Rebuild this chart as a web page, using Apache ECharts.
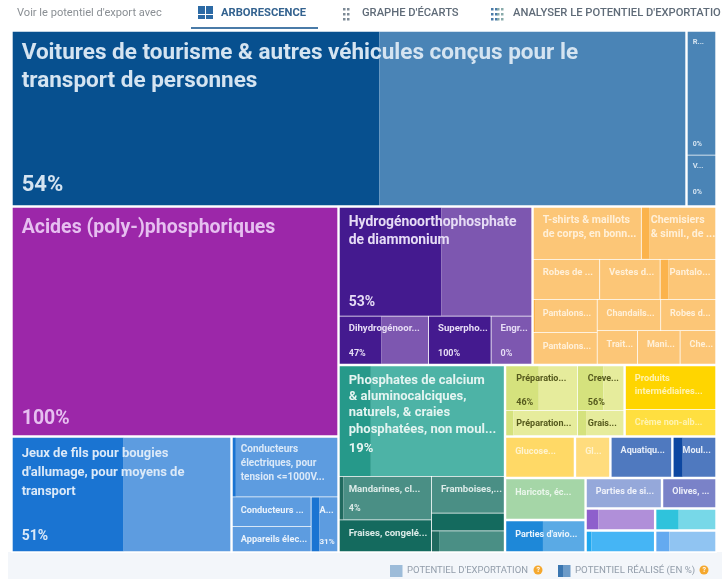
<!DOCTYPE html>
<html>
<head>
<meta charset="utf-8">
<style>html,body{margin:0;padding:0;background:#fff}#c{width:722px;height:579px}</style>
<script src="https://cdn.jsdelivr.net/npm/echarts@6/dist/echarts.min.js"></script>
</head>
<body>
<div id="c"></div>
<script>
// ---- data -----------------------------------------------------------------
const cellNames = [
  "Voitures de tourisme & autres véhicules conçus pour le\ntransport de personnes", "R...", "V...",
  "Acides (poly-)phosphoriques",
  "Jeux de fils pour bougies\nd'allumage, pour moyens de\ntransport",
  "Conducteurs\nélectriques, pour\ntension <=1000V...", "Conducteurs ...", "Appareils élec...", "A...",
  "Hydrogénoorthophosphate\nde diammonium", "Dihydrogénoor...", "Superpho...", "Engr...",
  "T-shirts & maillots\nde corps, en bonn...", "Chemisiers\n& simil., de ...", "Robes de ...", "Vestes d...", "Pantalo...",
  "Pantalons...", "Pantalons...", "Chandails...", "Robes d...", "Trait...", "Mani...", "Che...",
  "Phosphates de calcium\n& aluminocalciques,\nnaturels, & craies\nphosphatées, non moul...",
  "Mandarines, cl...", "Fraises, congelé...", "Framboises,...", "", "",
  "Préparatio...", "Préparation...", "Creve...", "Grais...",
  "Produits\nintermédiaires...", "Crème non-alb...",
  "Glucose...", "Gl...", "Aquatiqu...", "Moul...",
  "Haricots, éc...", "Parties d'avio...", "Parties de si...", "Olives, ...",
  "", "", "", ""
];
const potential = [
  1188, 37.5, 15.3,
  752.1,
  255.2,
  64.7, 24, 20.4, 15,
  213.4, 43.7, 30.6, 19.9,
  57.2, 39.4, 27.1, 24.7, 22.7,
  21.6, 20.6, 20.2, 17.5, 13.8, 14.6, 12.2,
  185.6,
  40.9, 29.8, 27.2, 13.2, 15.4,
  33, 18.9, 21.4, 12.2,
  40.9, 24.8,
  29, 14.7, 25.7, 18.3,
  33.8, 26.2, 23.3, 16.6,
  15.3, 15.3, 13.5, 13.5
];
const realized = [
  54.5, 0, 0,
  100,
  51,
  3, 0, 0, 31,
  53, 47, 100, 0,
  0, 10, 0, 0, 14,
  2, 0, 0, 0, 0, 0, 0,
  19,
  4, 100, 0, 100, 10,
  46, 10, 56, 18,
  0, 0,
  0, 0, 0, 22,
  0, 47, 0, 0,
  17, 7, 38, 22
];
const percentLabels = [
  "54%", "0%", "0%",
  "100%",
  "51%",
  "", "", "", "31%",
  "53%", "47%", "100%", "0%",
  "", "", "", "", "",
  "", "", "", "", "", "", "",
  "19%",
  "4%", "", "", "", "",
  "46%", "", "56%", "",
  "", "",
  "", "", "", "",
  "", "", "", "",
  "", "", "", ""
];
const headerIntro = "Voir le potentiel d'export avec";
const tabLabels = ["ARBORESCENCE", "GRAPHE D'ÉCARTS", "ANALYSER LE POTENTIEL D'EXPORTATIO"];
const legendLabels = ["POTENTIEL D'EXPORTATION", "POTENTIEL RÉALISÉ (EN %)"];

// ---- nesting of the treemap: S = split across the short side, L = cut along the long side
const S = (...k) => ({ across: true, k });
const L = (...k) => ({ across: false, k });
const tight = n => (n.tight = true, n); // group whose cells sit closer together
const nesting = S(
  L(0, tight(L(1, 2))),
  L(
    L(3, L(4, tight(L(5, L(S(6, 7), 8))))),
    S(
      L(
        tight(S(9, L(10, 11, 12))),
        tight(S(L(13, 14), S(L(15, 16, 17), L(L(18, 19), S(L(20, 21), L(22, 23, 24))))))
      ),
      L(
        tight(L(25, L(S(26, 27), L(28, S(29, 30))))),
        S(
          L(tight(L(S(31, 32), L(33, 34))), tight(S(35, 36))),
          L(37, 38, 39, 40),
          L(S(41, 42), S(L(43, 44), L(S(45, 46), S(47, 48))))
        )
      )
    )
  )
);

// ---- styles -----------------------------------------------------------------
const P = (light, dark, text, size, lh, pct, pad) => ({ light, dark, text, size, lh, pct, pad });
const carsK = P('#4a84b6', '#07508f', '#d5e4f1', 22.5, 28, 22, [8, 9]);
const miniCars = P('#4a84b6', '#07508f', '#d5e4f1', 7.5, 9, 7, [6, 5]);
const acid = P('#9c27a9', '#9c27a9', '#e6bff0', 19.5, 22, 19.5, [9, 9]);
const jeux = P('#5d9ce0', '#1a74d2', '#dbe9f8', 13, 19, 14, [7, 9]);
const jeuxS = P('#5d9ce0', '#1a74d2', '#dbe9f8', 10, 14, 9, [5, 8]);
const jeuxM = P('#5d9ce0', '#1a74d2', '#eaf2fb', 9.2, 12, 8, [7, 8]);
const hyd = P('#7d57b0', '#441a8f', '#e6dcf5', 13.9, 18, 14, [6, 9]);
const hydS = P('#7d57b0', '#441a8f', '#e6dcf5', 9.6, 12, 9, [6, 9]);
const orgB = P('#fcc677', '#fbb34c', '#fff0d9', 10.6, 13.5, 9, [6, 9]);
const org = P('#fcc677', '#fbb34c', '#fff0d9', 9.5, 13, 9, [6, 9]);
const org2 = P('#fcc677', '#fbb34c', '#fff0d9', 9, 12, 9, [7.5, 9]);
const tealB = P('#4db3a6', '#26998a', '#e4f4f1', 13, 16.4, 13, [6, 9]);
const tealM = P('#4a8f85', '#206a5f', '#dcebe8', 9.6, 12, 9, [7, 9]);
const tealD = P('#4a8f85', '#146a5e', '#dcebe8', 9.6, 12, 9, [7, 9]);
const yg = P('#e6ec9c', '#d5e27d', '#55591d', 9, 12, 9, [7, 10]);
const yel = P('#ffd500', '#ffd500', '#fff3b0', 9.2, 13, 9, [6, 9]);
const yel2 = P('#ffdf40', '#ffdf40', '#fff3b0', 9, 12, 9, [7, 9]);
const yel3 = P('#ffd966', '#ffd966', '#fff3cf', 9, 12, 9, [8, 9]);
const yel4 = P('#ffdc7d', '#ffdc7d', '#fff3cf', 9, 12, 9, [8, 9]);
const ind = P('#4f79bf', '#0d47a1', '#e6edf8', 9, 12, 9, [7, 9]);
const mint = P('#a5d6a7', '#a5d6a7', '#eaf6eb', 9, 12, 9, [7.5, 9]);
const avio = P('#5aaae5', '#1e88d8', '#eaf5fd', 9, 12, 9, [8, 9]);
const si = P('#95a8da', '#95a8da', '#eef1fa', 9, 12, 9, [7, 9]);
const oli = P('#7a82c8', '#7a82c8', '#eceef9', 9, 12, 9, [7, 9]);
const pur = P('#b08fd9', '#8e5fcc', '#fff', 9, 12, 9, [7, 9]);
const lb = P('#45b5f5', '#1fa8f0', '#fff', 9, 12, 9, [7, 9]);
const cy = P('#77d8e8', '#2fc3dc', '#fff', 9, 12, 9, [7, 9]);
const bl = P('#90c4f2', '#64aaf0', '#fff', 9, 12, 9, [7, 9]);
const cellStyle = [
  carsK, miniCars, miniCars, acid, jeux, jeuxS, jeuxM, jeuxM, jeuxM,
  hyd, hydS, hydS, hydS,
  orgB, orgB, org, org, org, org2, org2, org2, org2, org2, org2, org2,
  tealB, tealM, tealD, tealM, tealD, tealM,
  yg, yg, yg, yg, yel, yel2, yel3, yel4, ind, ind,
  mint, avio, si, oli, pur, lb, cy, bl
];
const tightCells = new Set([1, 2, 5, 6, 7, 8, 9, 10, 11, 12, 13, 14, 15, 16, 17, 18, 19, 20, 21, 22, 23, 24,
  25, 26, 27, 28, 29, 30, 31, 32, 33, 34, 35, 36]);
const tallCells = new Set([8]);
const pctLift = { 0: 3, 1: 2, 2: 4, 3: 1, 4: 2, 9: 1, 25: 15, 26: 1, 31: -3, 33: -3 };

// ---- build the three stacked treemaps (fill, title labels, percent labels) ---
const HAIR = 1e-9; // invisible spacer: makes the layout cut the long side
const spacer = () => ({ name: '', value: HAIR, itemStyle: { color: 'transparent', borderWidth: 0 }, label: { show: false } });
const cross = (items, across) => {
  if (across) return items;
  const out = [];
  items.forEach((it, i) => { if (i) out.push(spacer()); out.push(it); });
  return out;
};
function leaf(i, mode) {
  const st = cellStyle[i], b = tightCells.has(i) ? 0.4 : 1.2;
  const v = potential[i], r = realized[i];
  if (mode === 'fill') {
    const base = { name: '', itemStyle: { borderWidth: b, borderColor: '#fff' }, label: { show: false } };
    if (r <= 0 || r >= 100) {
      base.value = v; base.itemStyle.color = r >= 100 ? st.dark : st.light;
      return base;
    }
    base.children = cross([
      { name: '', value: v * r / 100, itemStyle: { color: st.dark }, label: { show: false } },
      { name: '', value: v * (100 - r) / 100, itemStyle: { color: st.light }, label: { show: false } }
    ], tallCells.has(i));
    return base;
  }
  const text = mode === 'title' ? cellNames[i] : percentLabels[i];
  return {
    name: text, value: v,
    itemStyle: { color: 'transparent', borderWidth: b, borderColor: 'transparent' },
    label: text ? {
      show: true, overflow: 'none', formatter: '{b}', color: st.text,
      fontFamily: 'Roboto', fontWeight: 'bold',
      fontSize: mode === 'title' ? st.size : st.pct,
      lineHeight: mode === 'title' ? st.lh : st.pct + 3,
      position: mode === 'title' ? 'insideTopLeft' : 'insideBottomLeft',
      padding: mode === 'title' ? [st.pad[0], 2, 0, st.pad[1]] : [0, 2, 4 + (pctLift[i] || 0), st.pad[1]]
    } : { show: false }
  };
}
function build(n, mode) {
  if (typeof n === 'number') return leaf(n, mode);
  return {
    name: '',
    itemStyle: { color: 'transparent', borderWidth: n.tight ? 0.8 : 0, borderColor: mode === 'fill' ? '#fff' : 'transparent' },
    label: { show: false },
    children: cross(n.k.map(c => build(c, mode)), n.across)
  };
}
const mk = (mode, z) => ({
  type: 'treemap', z, left: 11.5, top: 30.5, width: 705, height: 522,
  sort: false, squareRatio: 20, roam: false, nodeClick: false, silent: true,
  breadcrumb: { show: false },
  itemStyle: { gapWidth: 0, borderWidth: 0, borderColor: mode === 'fill' ? '#fff' : 'transparent' },
  label: { show: false }, upperLabel: { show: false },
  emphasis: { disabled: true }, animation: false,
  data: [build(nesting, mode)]
});

// ---- header and legend -------------------------------------------------------
const txt = (x, y, s, size, color, weight) => ({
  type: 'text', x, y, silent: true,
  style: { text: s, fontFamily: 'Roboto', fontSize: size, fontWeight: weight || 'normal', fill: color, textVerticalAlign: 'middle' }
});
const box = (x, y, w, h, c) => ({ type: 'rect', silent: true, shape: { x, y, width: w, height: h }, style: { fill: c } });
const help = (x, y) => ([
  { type: 'circle', silent: true, shape: { cx: x, cy: y, r: 4.5 }, style: { fill: '#f5a82e' } },
  { type: 'text', x: x - 1.6, y, silent: true, style: { text: '?', fontFamily: 'Roboto', fontSize: 7, fontWeight: 'bold', fill: '#fff', textVerticalAlign: 'middle' } }
]);
const dots = (x, c) => [[0,0],[4,0],[0,5],[4,5],[0,10],[4,10]].map(p => box(x + p[0], 8 + p[1], 2.5, 2.5, c));
const graphic = [
  box(8, 552, 714, 27, '#f3f6fa'),
  txt(17, 13.5, headerIntro, 11.1, '#8a8f94'),
  box(198, 6, 7, 8, '#2c6aa5'), box(206, 6, 7, 8, '#2c6aa5'), box(198, 15, 7, 4, '#2c6aa5'), box(206, 15, 7, 4, '#2c6aa5'),
  txt(221, 13, tabLabels[0], 11.2, '#33628f', 'bold'),
  box(191, 27, 127, 2, '#4a7ba8'),
  ...dots(343, '#7d8a96'),
  txt(362, 13, tabLabels[1], 11.2, '#5f6b78', 500),
  ...dots(491, '#4a7ba8'), ...dots(497, '#8aa'),
  txt(513, 13, tabLabels[2], 11.2, '#5f6b78', 500),
  box(390, 565, 12.5, 12, '#9dbcd9'),
  txt(407, 571, legendLabels[0], 9.5, '#929daa'),
  ...help(538, 570),
  box(558, 565, 5, 12, '#3a76b0'), box(563, 565, 7.5, 12, '#6c9bc8'),
  txt(575, 571, legendLabels[1], 9.7, '#929daa'),
  ...help(704, 570)
];

const chart = echarts.init(document.getElementById('c'), null, { renderer: 'canvas' });
chart.setOption({
  animation: false, backgroundColor: '#fff', tooltip: { show: false },
  series: [mk('fill', 2), mk('title', 3), mk('pct', 4)],
  graphic
});
</script>
</body>
</html>
